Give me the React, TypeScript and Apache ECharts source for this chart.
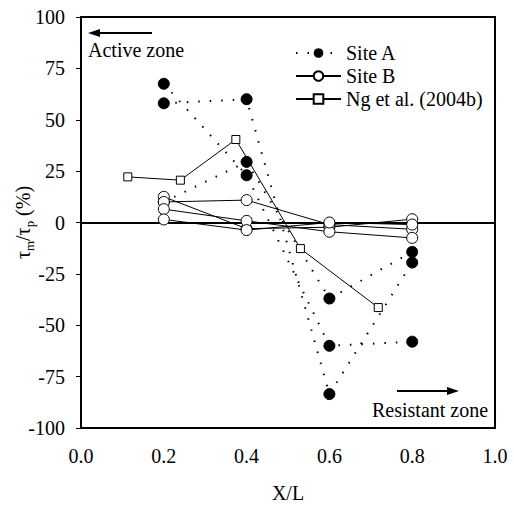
import React, { useEffect, useRef } from "react";
import * as echarts from "echarts";

const xPositions = [0.2, 0.4, 0.6, 0.8];
const siteA1 = [58, 60, -83.5, -19.5];
const siteA2 = [67.5, 23, -60, -58];
const siteA3 = [10, 29.5, -37, -14.3];
const siteB1 = [12.5, -3, -2.3, 1.6];
const siteB2 = [10, 10.9, -1, -3.3];
const siteB3 = [6.5, 0.8, -4.5, -7.5];
const siteB4 = [1.5, -3.7, 0, -1];
const ngX = [0.113, 0.24, 0.374, 0.53, 0.718];
const ngY = [22.2, 20.6, 40.4, -12.7, -41.4];
const zeroLineX = [0, 1];
const zeroLineY = [0, 0];
const yTicks = { min: -100, max: 100, interval: 25 };
const xTicks = { min: 0, max: 1, interval: 0.2 };

const FONT = "Liberation Serif";

const pair = (xs: number[], ys: number[]) => xs.map((x, i) => [x, ys[i]]);

export default function App() {
  const ref = useRef<HTMLDivElement>(null);
  useEffect(() => {
    document.body.style.margin = "0";
    const chart = echarts.init(ref.current!, undefined, { renderer: "svg" });
    const siteA = (d: number[]) => ({
      name: "Site A",
      type: "line",
      data: pair(xPositions, d),
      symbol: "circle",
      symbolSize: 11,
      itemStyle: { color: "#000", borderColor: "#000" },
      lineStyle: { color: "#000", width: 2, type: [1.5, 10] },
      z: 2,
    });
    const siteB = (d: number[]) => ({
      name: "Site B",
      type: "line",
      data: pair(xPositions, d),
      symbol: "circle",
      symbolSize: 11,
      itemStyle: { color: "#fff", borderColor: "#000", borderWidth: 1 },
      lineStyle: { color: "#000", width: 1 },
      z: 3,
    });
    chart.setOption({
      animation: false,
      grid: {
        left: 81,
        right: 19,
        top: 17,
        bottom: 81,
        containLabel: false,
        outerBoundsMode: "none",
        show: true,
        borderColor: "#000",
        borderWidth: 2,
      },
      legend: {
        data: ["Site A", "Site B", "Ng et al. (2004b)"],
        orient: "vertical",
        left: 290,
        top: 38,
        itemWidth: 45,
        itemHeight: 12,
        itemGap: 3,
        textStyle: { fontFamily: FONT, fontSize: 20, color: "#000" },
      },
      xAxis: {
        type: "value",
        ...xTicks,
        name: "X/L",
        nameLocation: "middle",
        nameGap: 55,
        nameMoveOverlap: false,
        nameTextStyle: { fontFamily: FONT, fontSize: 20, color: "#000" },
        axisLine: { lineStyle: { color: "#000", width: 2 } },
        axisTick: { inside: true, length: 5, lineStyle: { color: "#000" } },
        axisLabel: {
          margin: 18,
          fontFamily: FONT,
          fontSize: 20,
          color: "#000",
          formatter: (v: number) => v.toFixed(1),
        },
        splitLine: { show: false },
      },
      yAxis: {
        type: "value",
        ...yTicks,
        name: "{t|τ}{s|m}{t|/τ}{s|p}{t| (%)}",
        nameLocation: "middle",
        nameGap: 45,
        nameMoveOverlap: false,
        nameTextStyle: {
          fontFamily: FONT,
          fontSize: 20,
          color: "#000",
          rich: {
            t: { fontFamily: FONT, fontSize: 20, lineHeight: 26, verticalAlign: "middle", color: "#000" },
            s: { fontFamily: FONT, fontSize: 13, lineHeight: 14, verticalAlign: "bottom", color: "#000" },
          },
        },
        axisLine: { lineStyle: { color: "#000", width: 2 } },
        axisTick: { inside: false, length: 5, lineStyle: { color: "#000" } },
        axisLabel: { margin: 16, fontFamily: FONT, fontSize: 20, color: "#000" },
        splitLine: { show: false },
      },
      series: [
        {
          name: "zero",
          type: "line",
          data: pair(zeroLineX, zeroLineY),
          symbol: "none",
          lineStyle: { color: "#000", width: 1 },
          silent: true,
          z: 1,
        },
        siteA(siteA1),
        siteA(siteA2),
        siteA(siteA3),
        siteB(siteB1),
        siteB(siteB2),
        siteB(siteB3),
        siteB(siteB4),
        {
          name: "Ng et al. (2004b)",
          type: "line",
          data: pair(ngX, ngY),
          symbol: "rect",
          symbolSize: 8,
          itemStyle: { color: "#fff", borderColor: "#000", borderWidth: 1 },
          lineStyle: { color: "#000", width: 1 },
          z: 4,
        },
      ],
      graphic: [
        { type: "line", shape: { x1: 152, y1: 33, x2: 96, y2: 33 }, style: { stroke: "#000", lineWidth: 2 } },
        { type: "polygon", shape: { points: [[88, 33], [100, 29], [100, 37]] }, style: { fill: "#000" } },
        {
          type: "text",
          x: 88,
          y: 40,
          style: { text: "Active zone", fontFamily: FONT, fontSize: 20, fill: "#000" },
        },
        { type: "line", shape: { x1: 397, y1: 391, x2: 450, y2: 391 }, style: { stroke: "#000", lineWidth: 2 } },
        { type: "polygon", shape: { points: [[459, 391], [447, 387], [447, 395]] }, style: { fill: "#000" } },
        {
          type: "text",
          x: 372,
          y: 400,
          style: { text: "Resistant zone", fontFamily: FONT, fontSize: 20, fill: "#000" },
        },
      ],
    });
    return () => chart.dispose();
  }, []);
  return (
    <div>
      <div ref={ref} style={{ width: 514, height: 509 }} />
    </div>
  );
}
